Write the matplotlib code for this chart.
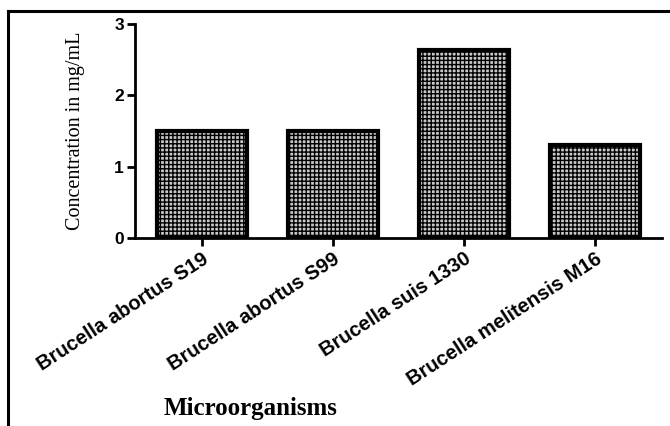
import matplotlib
matplotlib.use("Agg")
import matplotlib.pyplot as plt
from matplotlib.lines import Line2D

categories = ["Brucella abortus S19", "Brucella abortus S99",
              "Brucella suis 1330", "Brucella melitensis M16"]
concentration = [1.5, 1.5, 2.63, 1.3]
y_ticks = [0, 1, 2, 3]

plt.rcParams['hatch.color'] = 'black'
plt.rcParams['hatch.linewidth'] = 1.0

W, H = 670, 426
fig = plt.figure(figsize=(W / 100, H / 100), dpi=100)

# outer frame (top and left edges)
fig.add_artist(Line2D([8 / W, 1.0], [1 - 11 / H, 1 - 11 / H], color='black',
                      lw=2.2, transform=fig.transFigure))
fig.add_artist(Line2D([8 / W, 8 / W], [0, 1 - 11 / H], color='black',
                      lw=2.2, transform=fig.transFigure))

ax = fig.add_axes([135 / W, 1 - 238 / H, (662 - 135) / W, (238 - 24) / H])

x = list(range(len(categories)))
ax.bar(x, concentration, width=0.69, facecolor='#c8c8c8', edgecolor='black',
       linewidth=3.0, hatch='++++', zorder=2)

ax.set_xlim(-0.51, 3.51)
ax.set_ylim(0, 3)
ax.set_yticks(y_ticks)
ax.set_yticklabels([str(v) for v in y_ticks], fontfamily='Liberation Sans',
                   fontweight='bold', fontsize=12.5)
ax.set_xticks(x)
ax.set_xticklabels(categories, rotation=33, ha='right', va='top',
                   rotation_mode='anchor', fontfamily='Liberation Sans',
                   fontweight='bold', fontsize=14.5)

for s in ('top', 'right'):
    ax.spines[s].set_visible(False)
for s in ('left', 'bottom'):
    ax.spines[s].set_linewidth(2.0)

ax.tick_params(axis='both', width=2.0, length=6, pad=2)

ax.set_ylabel("Concentration in mg/mL", fontfamily='Liberation Serif',
              fontsize=14.5)
ax.yaxis.set_label_coords(-0.095, 0.5)

fig.text(251 / W, 1 - 408 / H, "Microorganisms", fontfamily='Liberation Serif',
         fontweight='bold', fontsize=18, ha='center', va='center')

fig.savefig("out.png", dpi=100)
